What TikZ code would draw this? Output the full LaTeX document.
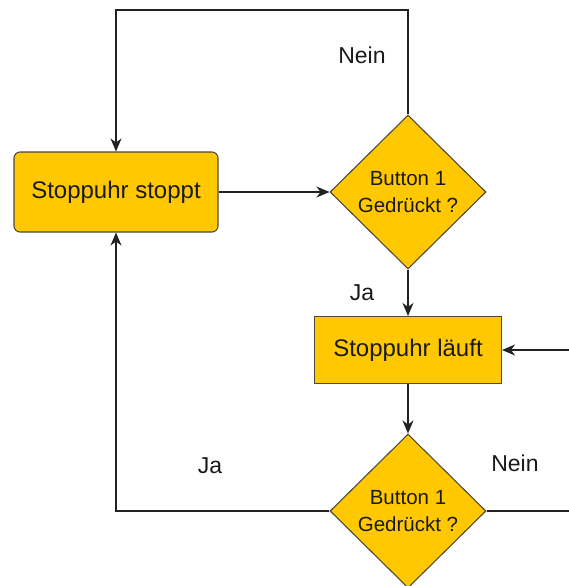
\documentclass[tikz,border=0pt]{standalone}
\usepackage{fontspec}
\setmainfont{Liberation Sans}
\usetikzlibrary{shapes.geometric,arrows.meta}
\definecolor{fillc}{HTML}{FFC800}
\definecolor{strokec}{HTML}{4D4A3A}
\definecolor{textc}{HTML}{1A1A1A}
\definecolor{linec}{HTML}{222222}
\begin{document}
\begin{tikzpicture}[x=1pt,y=-1pt,
  box/.style={draw=strokec, fill=fillc, line width=1.1pt, text=textc, align=center, inner sep=0pt,
    font=\fontsize{24}{28}\selectfont},
  decision/.style={diamond, aspect=1, draw=strokec, fill=fillc, line width=1.1pt, text=textc,
    align=center, inner sep=0pt, minimum width=156pt, minimum height=154pt,
    font=\fontsize{20.5}{27}\selectfont},
  lbl/.style={text=textc, font=\fontsize{23}{27}\selectfont, inner sep=0pt},
  conn/.style={draw=linec, line width=1.2pt, -{Stealth[length=13pt,width=11pt,inset=4pt]}}]
\useasboundingbox (0,0) rectangle (568,586);
\node[box, rounded corners=6pt, minimum width=204pt, minimum height=80pt] (stop) at (116,192) {Stoppuhr stoppt};
\node[decision] (d1) at (408,192) {Button 1\\Gedrückt ?};
\node[box, minimum width=187pt, minimum height=67pt] (run) at (408,350) {Stoppuhr läuft};
\node[decision] (d2) at (408,511) {Button 1\\Gedrückt ?};
\coordinate (top) at (262,10);
\coordinate (rt) at (574,430);
\draw[conn] (d1.north) |- (top) -| (stop.north);
\draw[conn] (stop.east) -- (d1.west);
\draw[conn] (d1.south) -- (run.north);
\draw[conn] (run.south) -- (d2.north);
\draw[conn] (d2.west) -| (stop.south);
\draw[conn] (d2.east) -| (rt) |- (run.east);
\node[lbl] (n1) at (362,55) {Nein};
\node[lbl] (j1) at (362,293) {Ja};
\node[lbl] (j2) at (210,466) {Ja};
\node[lbl] (n2) at (515,463) {Nein};
\end{tikzpicture}
\end{document}
